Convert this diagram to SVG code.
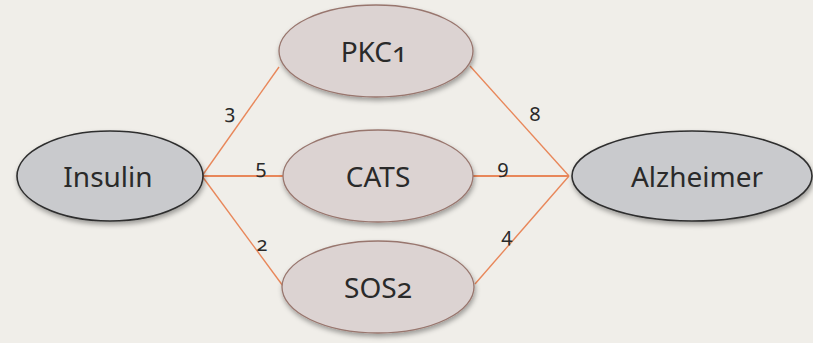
<svg xmlns="http://www.w3.org/2000/svg" width="813" height="343" viewBox="0 0 813 343">
<defs>
<filter id="sh" x="-10%" y="-10%" width="125%" height="135%">
<feDropShadow dx="1" dy="3" stdDeviation="2.5" flood-color="#000" flood-opacity="0.35"/>
</filter>
<style>
.gray{fill:#c9cacd;stroke:#2e2e2e;stroke-width:1.6;filter:url(#sh)}
.pink{fill:#dcd3d2;stroke:#98766e;stroke-width:1.3;filter:url(#sh)}
.lbl{font-family:"Noto Sans","Open Sans",sans-serif;font-size:28px;fill:#2a2a2a;text-anchor:middle;dominant-baseline:central;font-variant-numeric:oldstyle-nums}
.num{font-family:"Noto Sans","Open Sans",sans-serif;font-size:20px;fill:#2a2a2a;text-anchor:middle;dominant-baseline:central;font-variant-numeric:oldstyle-nums}
.edge{stroke:#e8875a;stroke-width:1.4;fill:none}
</style>
</defs>
<rect width="813" height="343" fill="#f0eee9"/>
<g id="connectors">
<line class="edge" x1="202" y1="176" x2="279" y2="67"/>
<line class="edge" x1="202" y1="176" x2="283" y2="176" style="stroke-width:2"/>
<line class="edge" x1="202" y1="176" x2="283" y2="286"/>
<line class="edge" x1="470" y1="66" x2="569" y2="176"/>
<line class="edge" x1="473" y1="176" x2="569" y2="176" style="stroke-width:2"/>
<line class="edge" x1="475" y1="284" x2="569" y2="176"/>
<text class="num" x="230" y="111">3</text>
<text class="num" x="261" y="166">5</text>
<text class="num" x="262" y="243">2</text>
<text class="num" x="535" y="113">8</text>
<text class="num" x="503" y="166">9</text>
<text class="num" x="507" y="234">4</text>
</g>
<g id="insulin">
<ellipse class="gray" cx="110" cy="176" rx="93" ry="45"/>
<text class="lbl" x="108" y="176">Insulin</text>
</g>
<g id="pkc1">
<ellipse class="pink" cx="376" cy="51" rx="97" ry="46"/>
<text class="lbl" x="374" y="51">PKC1</text>
</g>
<g id="cats">
<ellipse class="pink" cx="378" cy="176" rx="95" ry="46"/>
<text class="lbl" x="378" y="176">CATS</text>
</g>
<g id="sos2">
<ellipse class="pink" cx="378" cy="287" rx="96" ry="46"/>
<text class="lbl" x="378" y="287">SOS2</text>
</g>
<g id="alzheimer">
<ellipse class="gray" cx="692" cy="176" rx="120" ry="45"/>
<text class="lbl" x="697" y="176">Alzheimer</text>
</g>
</svg>
